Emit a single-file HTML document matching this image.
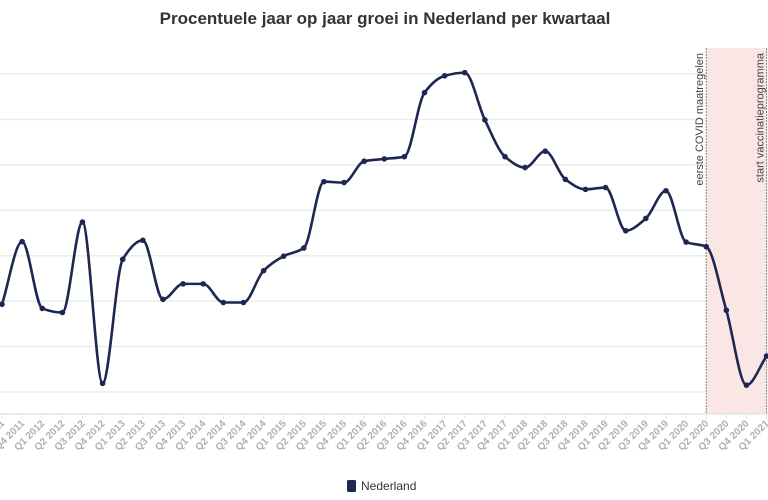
<!DOCTYPE html>
<html><head><meta charset="utf-8"><style>
body{margin:0;background:#fff;font-family:"Liberation Sans",sans-serif}
svg{display:block}
</style></head><body>
<svg id="chart" width="768" height="500">
<text x="385" y="24" text-anchor="middle" font-size="17" font-weight="bold" fill="#333">Procentuele jaar op jaar groei in Nederland per kwartaal</text>
<g id="grid"></g>
<g id="band"></g>
<g id="xaxis"></g>
<path id="line" fill="none" stroke="#1e2752" stroke-width="2.6"></path>
<g id="pts"></g>
<g>
<rect x="347" y="480" width="9" height="12" rx="1.5" fill="#1e2752"></rect>
<text x="361" y="490" font-size="12" fill="#333">Nederland</text>
</g>
</svg>
<script>
const categories=["Q3 2011","Q4 2011","Q1 2012","Q2 2012","Q3 2012","Q4 2012","Q1 2013","Q2 2013","Q3 2013","Q4 2013","Q1 2014","Q2 2014","Q3 2014","Q4 2014","Q1 2015","Q2 2015","Q3 2015","Q4 2015","Q1 2016","Q2 2016","Q3 2016","Q4 2016","Q1 2017","Q2 2017","Q3 2017","Q4 2017","Q1 2018","Q2 2018","Q3 2018","Q4 2018","Q1 2019","Q2 2019","Q3 2019","Q4 2019","Q1 2020","Q2 2020","Q3 2020","Q4 2020","Q1 2021"];
const values=[1.93,3.31,1.84,1.75,3.74,0.19,2.92,3.34,2.04,2.38,2.38,1.97,1.97,2.67,2.99,3.17,4.63,4.61,5.08,5.13,5.18,6.59,6.96,7.03,5.99,5.18,4.94,5.30,4.68,4.46,4.50,3.55,3.82,4.43,3.30,3.20,1.80,0.15,0.79];
const gridValues=[0,1,2,3,4,5,6,7];
const annotations=[{cat:"Q2 2020",label:"eerste COVID maatregelen"},{cat:"Q1 2021",label:"start vaccinatieprogramma"}];
const NS="http://www.w3.org/2000/svg";
const X=i=>2+i*20.12;
const Y=v=>392-v*45.43;
function el(t,a,p){const e=document.createElementNS(NS,t);for(const k in a)e.setAttribute(k,a[k]);document.getElementById(p).appendChild(e);return e;}
gridValues.forEach(g=>{const l=el('line',{x1:0,x2:768,y1:Y(g),y2:Y(g),stroke:'#ececec','stroke-width':1.5},'grid');

});
const a0=categories.indexOf(annotations[0].cat),a1=categories.indexOf(annotations[1].cat);
const b=el('rect',{x:X(a0),y:48,width:X(a1)-X(a0),height:366,fill:'#fbe6e6'},'band');


annotations.forEach(a=>{const i=categories.indexOf(a.cat);
const l=el('line',{x1:X(i),x2:X(i),y1:48,y2:414,stroke:'#888','stroke-dasharray':'2,1','stroke-width':1},'band');


const t=el('text',{x:0,y:0,transform:`translate(${X(i)-3},53) rotate(-90)`,'text-anchor':'end','font-size':11,fill:'#444'},'band');
t.textContent=a.label;

});
const ax=el('line',{x1:0,x2:768,y1:414,y2:414,stroke:'#e6e6e6','stroke-width':1.5},'xaxis');


categories.forEach((c,i)=>{const tk=el('line',{x1:X(i),x2:X(i),y1:414,y2:419,stroke:'#e6e6e6'},'xaxis');


const t=el('text',{x:0,y:0,transform:`translate(${X(i)+3},424) rotate(-45)`,'text-anchor':'end','font-size':10,'font-weight':'bold',fill:'#b0b0b0'},'xaxis');
t.textContent=c;

});
const P=values.map((v,i)=>[X(i),Y(v)]);
// monotone cubic (Fritsch-Carlson)
const n=P.length,dx=[],sl=[],m=[];
for(let i=0;i<n-1;i++){dx[i]=P[i+1][0]-P[i][0];sl[i]=(P[i+1][1]-P[i][1])/dx[i];}
m[0]=sl[0];m[n-1]=sl[n-2];
for(let i=1;i<n-1;i++){if(sl[i-1]*sl[i]<=0)m[i]=0;else{const w1=2*dx[i]+dx[i-1],w2=dx[i]+2*dx[i-1];m[i]=(w1+w2)/(w1/sl[i-1]+w2/sl[i]);}}
let d=`M${P[0][0]},${P[0][1]}`;
for(let i=0;i<n-1;i++){const h=dx[i]/3;
d+=` C${P[i][0]+h},${P[i][1]+m[i]*h} ${P[i+1][0]-h},${P[i+1][1]-m[i+1]*h} ${P[i+1][0]},${P[i+1][1]}`;}
document.getElementById('line').setAttribute('d',d);
P.forEach(p=>{const c=el('circle',{cx:p[0],cy:p[1],r:2.8,fill:'#1e2752'},'pts');

});
</script>
</body></html>
